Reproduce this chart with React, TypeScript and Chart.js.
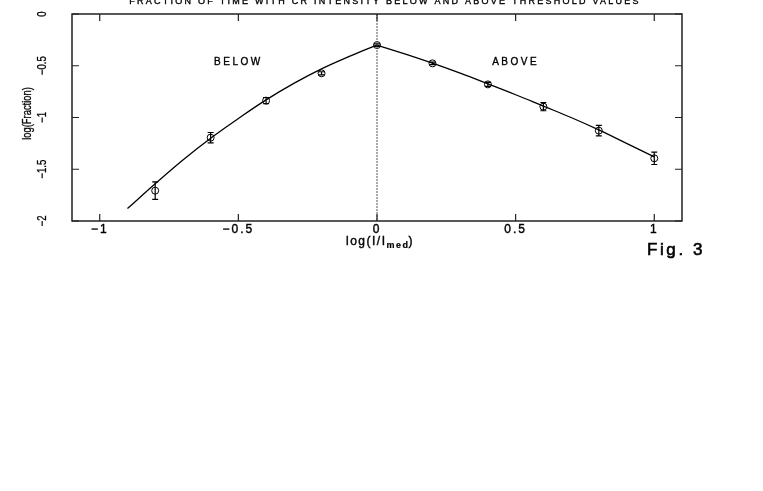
import React, { useEffect, useRef } from "react";
import { Chart, registerables } from "chart.js";

Chart.register(...registerables);

const xTicks = [-1, -0.5, 0, 0.5, 1];
const yTicks = [0, -0.5, -1, -1.5, -2];

// measured points (circles with error bars)
const belowX = [-0.8, -0.6, -0.4, -0.2, 0];
const belowY = [-1.707, -1.195, -0.837, -0.573, -0.3];
const belowErr = [0.085, 0.05, 0.03, 0.015, 0.012];

const aboveX = [0.2, 0.4, 0.6, 0.8, 1.0];
const aboveY = [-0.477, -0.68, -0.895, -1.127, -1.394];
const aboveErr = [0.012, 0.02, 0.04, 0.05, 0.06];

// fitted curves
const fitBelowX = [-0.9, -0.8, -0.7, -0.6, -0.5, -0.4, -0.3, -0.2, -0.1, 0];
const fitBelowY = [-1.88, -1.64, -1.41, -1.2, -1.01, -0.83, -0.67, -0.53, -0.41, -0.3];
const fitAboveX = [0, 0.1, 0.2, 0.3, 0.4, 0.5, 0.6, 0.7, 0.8, 0.9, 1.0];
const fitAboveY = [-0.3, -0.385, -0.475, -0.572, -0.675, -0.78, -0.89, -1.0, -1.12, -1.25, -1.38];

const titleText = "FRACTION OF TIME WITH CR INTENSITY BELOW AND ABOVE THRESHOLD VALUES";
const yTitle = "log(Fraction)";
const belowLabel = "BELOW";
const aboveLabel = "ABOVE";
const figLabel = "Fig. 3";

const FONT = "'Liberation Sans', Arial, Helvetica, sans-serif";
const fmt = (v: number) => (v < 0 ? "\u2212" + String(Math.abs(v)) : String(v));

const pts = (xs: number[], ys: number[]) => xs.map((x, i) => ({ x, y: ys[i] }));

const txt = (ctx: CanvasRenderingContext2D, s: string, x: number, y: number, w = 0.4) => {
  ctx.fillText(s, x, y);
  ctx.lineWidth = w;
  ctx.strokeText(s, x, y);
};

const decorPlugin = {
  id: "decor",
  afterDatasetsDraw(chart: any) {
    const ctx = chart.ctx as CanvasRenderingContext2D;
    const xs = chart.scales.x;
    const ys = chart.scales.y;
    const { left, right, top, bottom } = chart.chartArea;
    ctx.save();

    // error bars
    ctx.strokeStyle = "#000";
    ctx.lineWidth = 1.2;
    const drawErr = (xv: number[], yv: number[], ev: number[]) => {
      xv.forEach((x, i) => {
        const px = xs.getPixelForValue(x);
        const y1 = ys.getPixelForValue(yv[i] + ev[i]);
        const y2 = ys.getPixelForValue(yv[i] - ev[i]);
        ctx.beginPath();
        ctx.moveTo(px, y1);
        ctx.lineTo(px, y2);
        ctx.moveTo(px - 3, y1);
        ctx.lineTo(px + 3, y1);
        ctx.moveTo(px - 3, y2);
        ctx.lineTo(px + 3, y2);
        ctx.stroke();
      });
    };
    drawErr(belowX, belowY, belowErr);
    drawErr(aboveX, aboveY, aboveErr);

    // dashed zero line
    const x0 = xs.getPixelForValue(0);
    ctx.strokeStyle = "#555";
    ctx.lineWidth = 1;
    ctx.setLineDash([2, 1]);
    ctx.beginPath();
    ctx.moveTo(x0, top);
    ctx.lineTo(x0, bottom);
    ctx.stroke();
    ctx.setLineDash([]);

    // frame
    ctx.strokeStyle = "#222";
    ctx.lineWidth = 1.5;
    ctx.strokeRect(left, top, right - left, bottom - top);

    // inward ticks
    const TL = 7;
    ctx.lineWidth = 1.2;
    ctx.beginPath();
    xTicks.forEach((v) => {
      const px = xs.getPixelForValue(v);
      ctx.moveTo(px, bottom);
      ctx.lineTo(px, bottom - TL);
      ctx.moveTo(px, top);
      ctx.lineTo(px, top + TL);
    });
    yTicks.forEach((v) => {
      const py = ys.getPixelForValue(v);
      ctx.moveTo(left, py);
      ctx.lineTo(left + TL, py);
      ctx.moveTo(right, py);
      ctx.lineTo(right - TL, py);
    });
    ctx.stroke();

    ctx.fillStyle = "#000";
    ctx.strokeStyle = "#000";
    // x tick labels
    (ctx as any).letterSpacing = "2px";
    ctx.font = `12px ${FONT}`;
    ctx.textAlign = "center";
    ctx.textBaseline = "middle";
    xTicks.forEach((v) => {
      txt(ctx, fmt(v), xs.getPixelForValue(v), bottom + 9);
    });

    // y tick labels (rotated)
    (ctx as any).letterSpacing = "0px";
    yTicks.forEach((v) => {
      const py = ys.getPixelForValue(v);
      ctx.save();
      ctx.translate(left - 29, py);
      ctx.rotate(-Math.PI / 2);
      ctx.scale(0.8, 1);
      ctx.font = `12px ${FONT}`;
      ctx.textAlign = "center";
      ctx.textBaseline = "middle";
      txt(ctx, fmt(v), 0, 0, 0.3);
      ctx.restore();
    });

    // y title
    ctx.save();
    ctx.translate(left - 44, (top + bottom) / 2 - 4);
    ctx.rotate(-Math.PI / 2);
    ctx.scale(0.78, 1);
    ctx.font = `12px ${FONT}`;
    ctx.textAlign = "center";
    ctx.textBaseline = "middle";
    txt(ctx, yTitle, 0, 0, 0.3);
    ctx.restore();

    // x title with subscript
    (ctx as any).letterSpacing = "1.5px";
    ctx.font = `12px ${FONT}`;
    ctx.textBaseline = "alphabetic";
    ctx.textAlign = "left";
    const p1 = "log(I/I";
    const p2 = "med";
    const p3 = ")";
    const w1 = ctx.measureText(p1).width;
    ctx.font = `9px ${FONT}`;
    const w2 = ctx.measureText(p2).width;
    ctx.font = `12px ${FONT}`;
    const w3 = ctx.measureText(p3).width;
    let tx = x0 + 3 - (w1 + w2 + w3) / 2;
    const ty = bottom + 24;
    txt(ctx, p1, tx, ty);
    tx += w1;
    ctx.font = `bold 9px ${FONT}`;
    txt(ctx, p2, tx, ty + 3, 0.2);
    tx += w2;
    ctx.font = `12px ${FONT}`;
    txt(ctx, p3, tx, ty);

    // title
    ctx.textAlign = "center";
    ctx.textBaseline = "middle";
    (ctx as any).letterSpacing = "2.25px";
    ctx.font = `9px ${FONT}`;
    txt(ctx, titleText, x0 + 8, 2, 0.35);

    // BELOW / ABOVE
    (ctx as any).letterSpacing = "2.5px";
    ctx.font = `10px ${FONT}`;
    txt(ctx, belowLabel, xs.getPixelForValue(-0.5), ys.getPixelForValue(-0.47), 0.35);
    txt(ctx, aboveLabel, xs.getPixelForValue(0.5), ys.getPixelForValue(-0.47), 0.35);

    // Fig. 3
    (ctx as any).letterSpacing = "2.6px";
    ctx.font = `17px ${FONT}`;
    ctx.textAlign = "left";
    txt(ctx, figLabel, 647, 250, 0.6);

    ctx.restore();
  },
};

export default function App() {
  const ref = useRef<HTMLCanvasElement | null>(null);
  useEffect(() => {
    if (!ref.current) return;
    const chart = new Chart(ref.current, {
      type: "scatter",
      data: {
        datasets: [
          {
            type: "line",
            data: pts(fitBelowX, fitBelowY),
            borderColor: "#000",
            borderWidth: 1.3,
            pointRadius: 0,
            tension: 0.4,
            fill: false,
          },
          {
            type: "line",
            data: pts(fitAboveX, fitAboveY),
            borderColor: "#000",
            borderWidth: 1.3,
            pointRadius: 0,
            tension: 0.4,
            fill: false,
          },
          {
            data: pts(belowX, belowY),
            pointStyle: "circle",
            pointRadius: 3.5,
            borderColor: "#000",
            borderWidth: 1,
            backgroundColor: "rgba(0,0,0,0)",
          },
          {
            data: pts(aboveX, aboveY),
            pointStyle: "circle",
            pointRadius: 3.5,
            borderColor: "#000",
            borderWidth: 1,
            backgroundColor: "rgba(0,0,0,0)",
          },
        ],
      },
      options: {
        responsive: false,
        animation: false,
        layout: { padding: { left: 0, right: 81, top: 14, bottom: 240 } },
        plugins: { legend: { display: false }, tooltip: { enabled: false }, title: { display: false } },
        scales: {
          x: {
            type: "linear",
            min: -1.1,
            max: 1.1,
            grid: { display: false },
            border: { display: false },
            ticks: { display: false },
            afterFit: (s: any) => {
              s.height = 30;
            },
          },
          y: {
            type: "linear",
            min: -2,
            max: 0,
            grid: { display: false },
            border: { display: false },
            ticks: { display: false },
            afterFit: (s: any) => {
              s.width = 72;
            },
          },
        },
      },
      plugins: [decorPlugin],
    });
    return () => chart.destroy();
  }, []);
  return (
    <div style={{ position: "absolute", left: 0, top: 0, width: 763, height: 491, background: "#fff" }}>
      <canvas ref={ref} width={763} height={491} />
    </div>
  );
}
